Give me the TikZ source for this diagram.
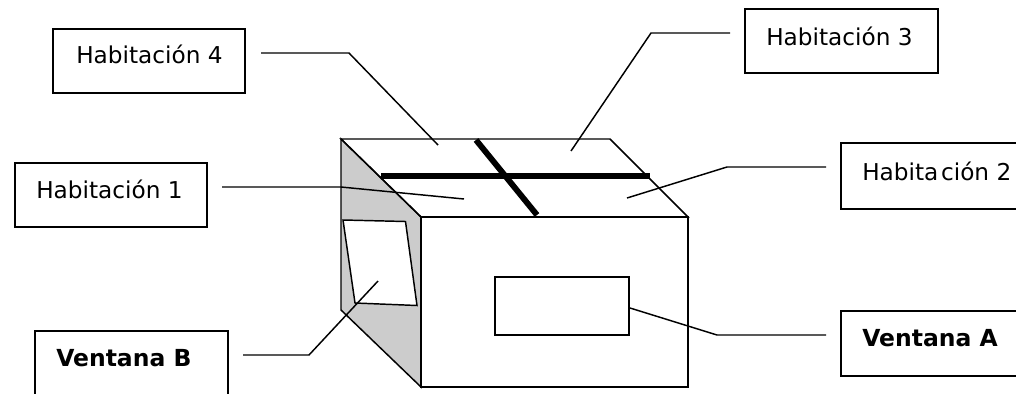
\documentclass[tikz,border=0pt]{standalone}
\usepackage{fontspec}
\usetikzlibrary{fit}
\setmainfont{DejaVu Sans}
\definecolor{facegray}{RGB}{204,204,204}
\tikzset{
  px/.style={x=0.75pt,y=-0.75pt},
  labelbox/.style={draw=black,line width=1.1pt,rectangle,inner sep=0pt,fill=white},
  labeltext/.style={inner sep=0pt,font=\fontsize{17.4pt}{20pt}\selectfont,text=black,anchor=base west},
  boldtext/.style={labeltext,font=\fontsize{17.6pt}{20pt}\selectfont\bfseries},
  edge/.style={draw=black,line width=1.1pt,line join=miter},
  lead/.style={draw=black,line width=1.1pt}
}
\begin{document}
\begin{tikzpicture}[px]
\useasboundingbox (0,0) rectangle (1016,393);
\begin{scope}
\clip (0,0) rectangle (1016,393);
% label boxes
\coordinate (b4a) at (53,29); \coordinate (b4b) at (245,93);
\coordinate (b3a) at (745,9); \coordinate (b3b) at (938,73);
\coordinate (b1a) at (15,163); \coordinate (b1b) at (207,227);
\coordinate (b2a) at (841,143); \coordinate (b2b) at (1030,209);
\coordinate (bAa) at (841,311); \coordinate (bAb) at (1030,376);
\coordinate (bBa) at (35,331); \coordinate (bBb) at (228,410);
\node[labelbox,fit=(b4a)(b4b)] (box4) {};
\node[labelbox,fit=(b3a)(b3b)] (box3) {};
\node[labelbox,fit=(b1a)(b1b)] (box1) {};
\node[labelbox,fit=(b2a)(b2b)] (box2) {};
\node[labelbox,fit=(bAa)(bAb)] (boxA) {};
\node[labelbox,fit=(bBa)(bBb)] (boxB) {};
\node[labeltext] (t4) at (76,63) {Habitación 4};
\node[labeltext] (t3) at (766,45) {Habitación 3};
\node[labeltext] (t1) at (36,198) {Habitación 1};
\node[labeltext] (t2) at (862,180) {Habita\kern2pt ción 2};
\node[boldtext] (tA) at (862,346) {Ventana A};
\node[boldtext] (tB) at (56,366) {Ventana B};
% box corners
\coordinate (tl) at (341,139); \coordinate (tr) at (610,139);
\coordinate (fl) at (421,217); \coordinate (fr) at (688,217);
\coordinate (bl) at (421,387); \coordinate (br) at (688,387);
\coordinate (ll) at (341,310);
\path[edge,fill=facegray] (tl) -- (fl) -- (bl) -- (ll) -- cycle;
\path[edge] (tl) -- (tr) -- (fr) -- (fl) -- cycle;
\path[edge] (fl) rectangle (br);
% windows
\coordinate (wb1) at (343,220); \coordinate (wb2) at (405.5,221.5);
\coordinate (wb3) at (417,305.5); \coordinate (wb4) at (355,303);
\path[edge,fill=white] (wb1) -- (wb2) -- (wb3) -- (wb4) -- cycle;
\coordinate (waa) at (495,277); \coordinate (wab) at (629,335);
\path[edge] (waa) rectangle (wab);
% walls
\coordinate (wh1) at (381,176); \coordinate (wh2) at (650,176);
\coordinate (wd1) at (476,140); \coordinate (wd2) at (537,215);
\draw[draw=black,line width=5pt] (wh1) -- (wh2);
\draw[draw=black,line width=4.4pt] (wd1) -- (wd2);
% leaders
\coordinate (l4s) at (261,53); \coordinate (l4m) at (349,53); \coordinate (l4e) at (438,145);
\coordinate (l3s) at (730,33); \coordinate (l3m) at (651,33); \coordinate (l3e) at (571,151);
\coordinate (l1s) at (222,187); \coordinate (l1m) at (341,187); \coordinate (l1e) at (464,199);
\coordinate (l2s) at (826,167); \coordinate (l2m) at (727,167); \coordinate (l2e) at (627,198);
\coordinate (lAs) at (826,335); \coordinate (lAm) at (717,335); \coordinate (lAe) at (630,308);
\coordinate (lBs) at (243,355); \coordinate (lBm) at (309,355); \coordinate (lBe) at (378,281);
\draw[lead] (l4s) -- (l4m) -- (l4e);
\draw[lead] (l3s) -- (l3m) -- (l3e);
\draw[lead] (l1s) -- (l1m) -- (l1e);
\draw[lead] (l2s) -- (l2m) -- (l2e);
\draw[lead] (lAs) -- (lAm) -- (lAe);
\draw[lead] (lBs) -- (lBm) -- (lBe);
\end{scope}
\end{tikzpicture}
\end{document}
